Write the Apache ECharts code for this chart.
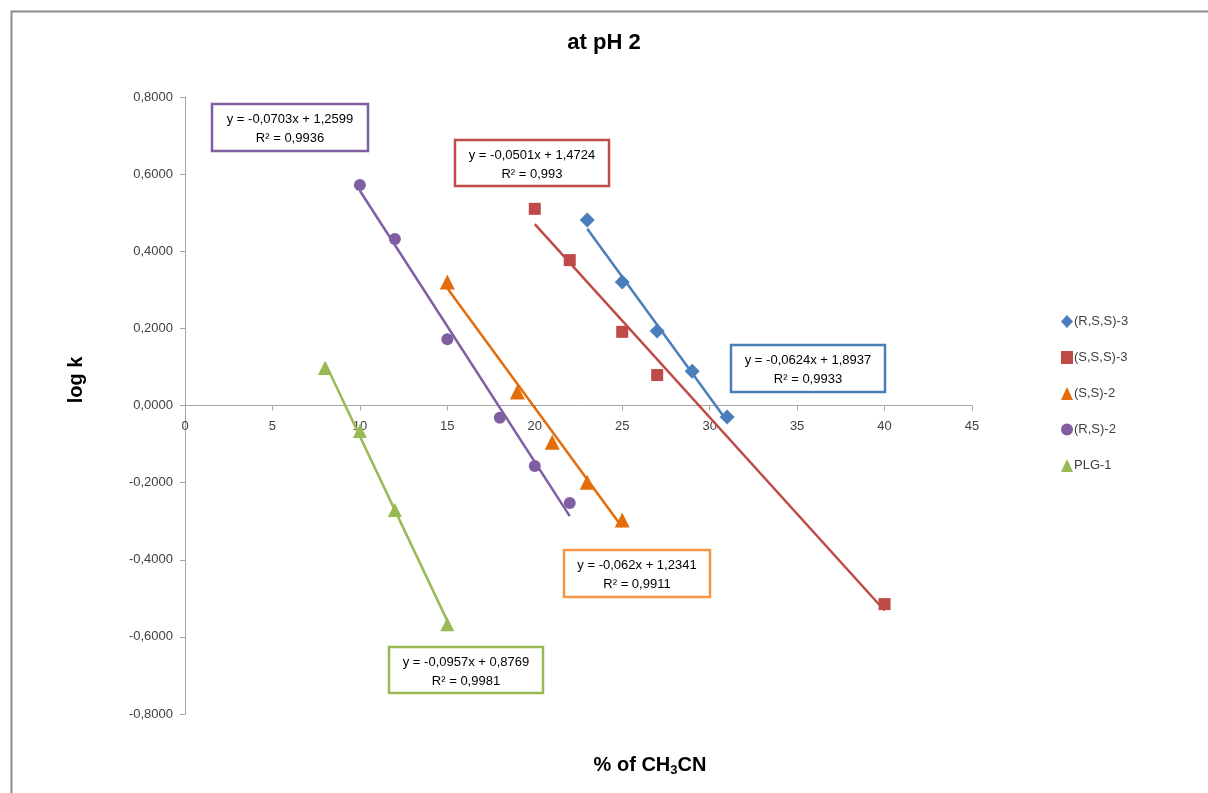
<!DOCTYPE html>
<html>
<head>
<meta charset="utf-8">
<script src="https://cdn.jsdelivr.net/npm/echarts@6/dist/echarts.min.js"></script>
<style>
html,body{margin:0;padding:0;background:#fff;}
#chart{width:1208px;height:793px;}
</style>
</head>
<body>
<div id="chart"></div>
<script>
// ---- data ----
var seriesNames = ['(R,S,S)-3', '(S,S,S)-3', '(S,S)-2', '(R,S)-2', 'PLG-1'];
var xRSS3 = [23, 25, 27, 29, 31];
var yRSS3 = [0.481, 0.320, 0.193, 0.089, -0.030];
var xSSS3 = [20, 22, 25, 27, 40];
var ySSS3 = [0.510, 0.377, 0.191, 0.079, -0.515];
var xSS2 = [15, 19, 21, 23, 25];
var ySS2 = [0.320, 0.035, -0.095, -0.199, -0.297];
var xRS2 = [10, 12, 15, 18, 20, 22];
var yRS2 = [0.572, 0.432, 0.172, -0.032, -0.157, -0.253];
var xPLG1 = [8, 10, 12, 15];
var yPLG1 = [0.097, -0.066, -0.271, -0.567];
// trend line coefficients (from the equation labels)
var slopes = [-0.0624, -0.0501, -0.062, -0.0703, -0.0957];
var intercepts = [1.8937, 1.4724, 1.2341, 1.2599, 0.8769];
var r2Labels = ['0,9933', '0,993', '0,9911', '0,9936', '0,9981'];
var eqLabels = ['y = -0,0624x + 1,8937', 'y = -0,0501x + 1,4724', 'y = -0,062x + 1,2341', 'y = -0,0703x + 1,2599', 'y = -0,0957x + 0,8769'];
var xTicks = [0, 5, 10, 15, 20, 25, 30, 35, 40, 45];
var yTicks = [-0.8, -0.6, -0.4, -0.2, 0, 0.2, 0.4, 0.6, 0.8];

var xs = [xRSS3, xSSS3, xSS2, xRS2, xPLG1];
var ys = [yRSS3, ySSS3, ySS2, yRS2, yPLG1];
var colors = ['#4A7EBB', '#BE4B48', '#E46C0A', '#7F5FA1', '#98B954'];
var boxColors = ['#4A7EBB', '#BE4B48', '#F79646', '#7F5FA1', '#98B954'];
var symbols = ['diamond', 'rect', 'triangle', 'circle', 'triangle'];
var symbolSizes = [15, 12, 15, 12, 14];

var series = [];
for (var i = 0; i < 5; i++) {
  var xmin = Math.min.apply(null, xs[i]), xmax = Math.max.apply(null, xs[i]);
  series.push({
    name: seriesNames[i] + ' trend', type: 'line', z: 2,
    data: [[xmin, slopes[i] * xmin + intercepts[i]], [xmax, slopes[i] * xmax + intercepts[i]]],
    showSymbol: false, silent: true,
    lineStyle: { color: colors[i], width: 2.5 },
    itemStyle: { color: colors[i] }
  });
}
for (var k = 0; k < 5; k++) {
  series.push({
    name: seriesNames[k], type: 'scatter', z: 3,
    data: xs[k].map(function (x, j) { return [x, ys[k][j]]; }),
    symbol: symbols[k], symbolSize: symbolSizes[k],
    itemStyle: { color: colors[k], opacity: 1 }
  });
}

var W = 1208, H = 793;
var gridL = 185, gridR = 236, gridT = 97, gridB = 79;
var yMin = yTicks[0], yMax = yTicks[yTicks.length - 1];
var gridH = H - gridT - gridB;
// move the x axis (line, ticks, labels) up to y = 0
var xAxisOffset = -gridH * (0 - yMin) / (yMax - yMin);

// equation boxes [left, top, width, height]
var boxes = [
  [731, 345, 154, 47],
  [455, 140, 154, 46],
  [564, 550, 146, 47],
  [212, 104, 156, 47],
  [389, 647, 154, 46]
];
var graphics = [
  { type: 'rect', left: 9, top: 9, shape: { width: 1220, height: 800 }, style: { fill: 'none', stroke: '#8C8C8C', lineWidth: 2 }, silent: true },
  { type: 'text', left: 'center', top: 32, style: { text: 'at pH 2', font: 'bold 22px "Liberation Sans", Arial, sans-serif', fill: '#000' } },
  { type: 'text', x: 76, y: 380, rotation: Math.PI / 2, style: { text: 'log k', font: 'bold 20px "Liberation Sans", Arial, sans-serif', fill: '#000', align: 'center', verticalAlign: 'middle' } },
  { type: 'text', x: 650, y: 765, style: {
      text: '{a|% of CH}{s|3}{a|CN}', align: 'center', verticalAlign: 'middle',
      rich: {
        a: { font: 'bold 20px "Liberation Sans", Arial, sans-serif', fill: '#000' },
        s: { font: 'bold 13px "Liberation Sans", Arial, sans-serif', fill: '#000', padding: [10, 0, 0, 0] }
      } } }
];
for (var b = 0; b < 5; b++) {
  var bx = boxes[b];
  graphics.push({ type: 'rect', shape: { x: bx[0], y: bx[1], width: bx[2], height: bx[3] }, style: { fill: '#fff', stroke: boxColors[b], lineWidth: 2.5 }, z: 10 });
  graphics.push({ type: 'text', x: bx[0] + bx[2] / 2, y: bx[1] + 15, z: 11, style: { text: eqLabels[b], font: '13px "Liberation Sans", Arial, sans-serif', fill: '#000', align: 'center', verticalAlign: 'middle' } });
  graphics.push({ type: 'text', x: bx[0] + bx[2] / 2, y: bx[1] + 34, z: 11, style: { text: 'R² = ' + r2Labels[b], font: '13px "Liberation Sans", Arial, sans-serif', fill: '#000', align: 'center', verticalAlign: 'middle' } });
}

var chart = echarts.init(document.getElementById('chart'), null, { renderer: 'canvas' });
chart.setOption({
  animation: false,
  backgroundColor: '#fff',
  grid: { left: gridL, right: gridR, top: gridT, bottom: gridB, containLabel: false },
  legend: {
    orient: 'vertical', left: 1056, top: 310, itemGap: 23, itemWidth: 12, itemHeight: 13,
    data: seriesNames,
    textStyle: { fontFamily: '"Liberation Sans", Arial, sans-serif', fontSize: 13, color: '#404040', padding: [0, 0, 0, -4] }
  },
  xAxis: {
    type: 'value', position: 'bottom', offset: xAxisOffset,
    min: xTicks[0], max: xTicks[xTicks.length - 1], interval: 5,
    axisLine: { onZero: false, lineStyle: { color: '#A6A6A6', width: 1 } },
    axisTick: { show: true, inside: false, length: 5, lineStyle: { color: '#A6A6A6' } },
    axisLabel: { fontFamily: '"Liberation Sans", Arial, sans-serif', fontSize: 13, color: '#404040', margin: 14 },
    splitLine: { show: false }
  },
  yAxis: {
    type: 'value', min: yMin, max: yMax, interval: 0.2,
    axisLine: { show: true, onZero: false, lineStyle: { color: '#A6A6A6', width: 1 } },
    axisTick: { show: true, length: 5, lineStyle: { color: '#A6A6A6' } },
    axisLabel: { fontFamily: '"Liberation Sans", Arial, sans-serif', fontSize: 13, color: '#404040', margin: 12,
      formatter: function (v) { return v.toFixed(4).replace('.', ','); } },
    splitLine: { show: false }
  },
  series: series,
  graphic: graphics
});
</script>
</body>
</html>
